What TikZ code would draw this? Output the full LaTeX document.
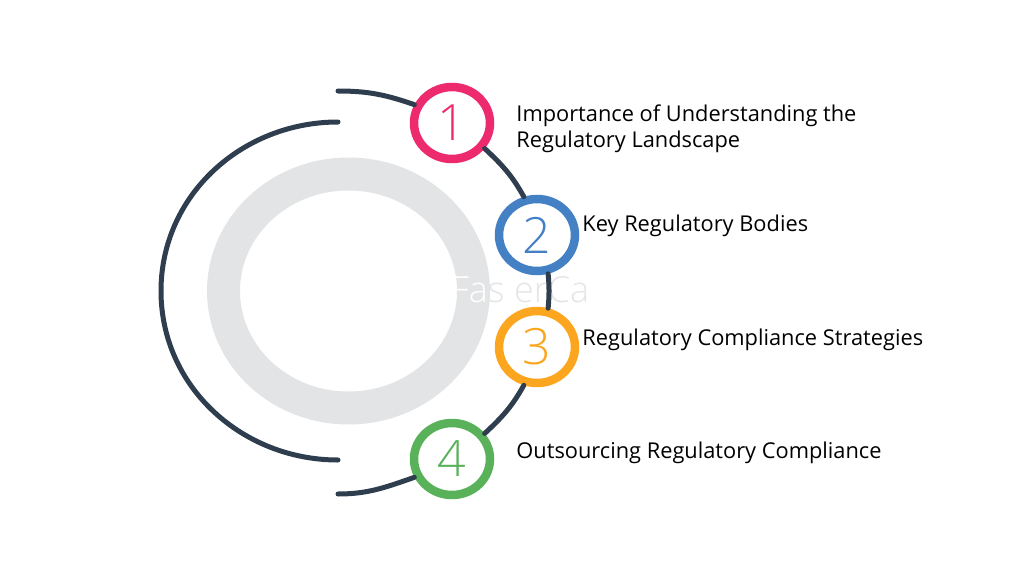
\documentclass[tikz,border=0pt]{standalone}
\usepackage{fontspec}
\setmainfont{Open Sans}
\newfontfamily\numfont[UprightFont=* Light]{Open Sans}
\usepackage{tikz}
\definecolor{ringgray}{HTML}{E3E4E5}
\definecolor{arcdark}{HTML}{2F3E4E}
\definecolor{onepink}{HTML}{EE2A6F}
\definecolor{twoblue}{HTML}{4480C4}
\definecolor{threeorange}{HTML}{FBA61E}
\definecolor{fourgreen}{HTML}{59B15A}
\usetikzlibrary{shapes.geometric, positioning}
\tikzstyle{numblock} = [ellipse, draw, line width=8.5pt, fill=white, minimum width=76pt, minimum height=72pt, inner sep=0pt, font=\numfont\fontsize{50}{50}\selectfont]
\tikzstyle{title} = [anchor=west, align=left, inner sep=0pt, text=black, font=\fontsize{21.8}{26}\selectfont]
\tikzstyle{arc} = [arcdark, line width=5pt, line cap=round]

\begin{document}
\begin{tikzpicture}[x=1pt,y=-1pt]
	\useasboundingbox (0,0) rectangle (1024,583);
	\node (Ring) [ellipse, draw=ringgray, line width=33pt, minimum width=250pt, minimum height=234pt] at (348.5,291) {};
	\node (Mark) [text=black!10, font=\numfont\fontsize{36}{36}\selectfont] at (520,290) {\textcolor{white}{Fa}s erCa};

	\node (One) [numblock, draw=onepink, text=onepink] at (452,123) {1};
	\node (Two) [numblock, draw=twoblue, text=twoblue] at (537,235) {2};
	\node (Three) [numblock, draw=threeorange, text=threeorange] at (537,347) {3};
	\node (Four) [numblock, draw=fourgreen, text=fourgreen] at (452,459) {4};

	\node (Importance) [title, right=22pt of One, yshift=-6pt] {Importance of Understanding the\\Regulatory Landscape};
	\node (Bodies) [title, right=0pt of Two, xshift=3pt, yshift=9pt] {Key Regulatory Bodies};
	\node (Strategies) [title, right=0pt of Three, xshift=3pt, yshift=7pt] {Regulatory Compliance Strategies};
	\node (Outsourcing) [title, right=22pt of Four, yshift=6pt] {Outsourcing Regulatory Compliance};

	\coordinate (OuterTop) at (338,91);
	\coordinate (OuterBottom) at (338,494);
	\coordinate (InnerTop) at (338,122);
	\coordinate (InnerBottom) at (338,460);

	\draw [arc] (OuterTop) to[out=0,in=161] (One.154);
	\draw [arc] (One.-38) to[out=-43,in=119] (Two.109);
	\draw [arc] (Two.-74) to[out=-85,in=85] (Three.74);
	\draw [arc] (Three.-109) to[out=-119,in=43] (Four.38);
	\draw [arc] (Four.-154) to[out=-161,in=0] (OuterBottom);
	\draw [arc] (InnerTop) to[out=180,in=90] (161,291) to[out=-90,in=180] (InnerBottom);
\end{tikzpicture}
\end{document}
